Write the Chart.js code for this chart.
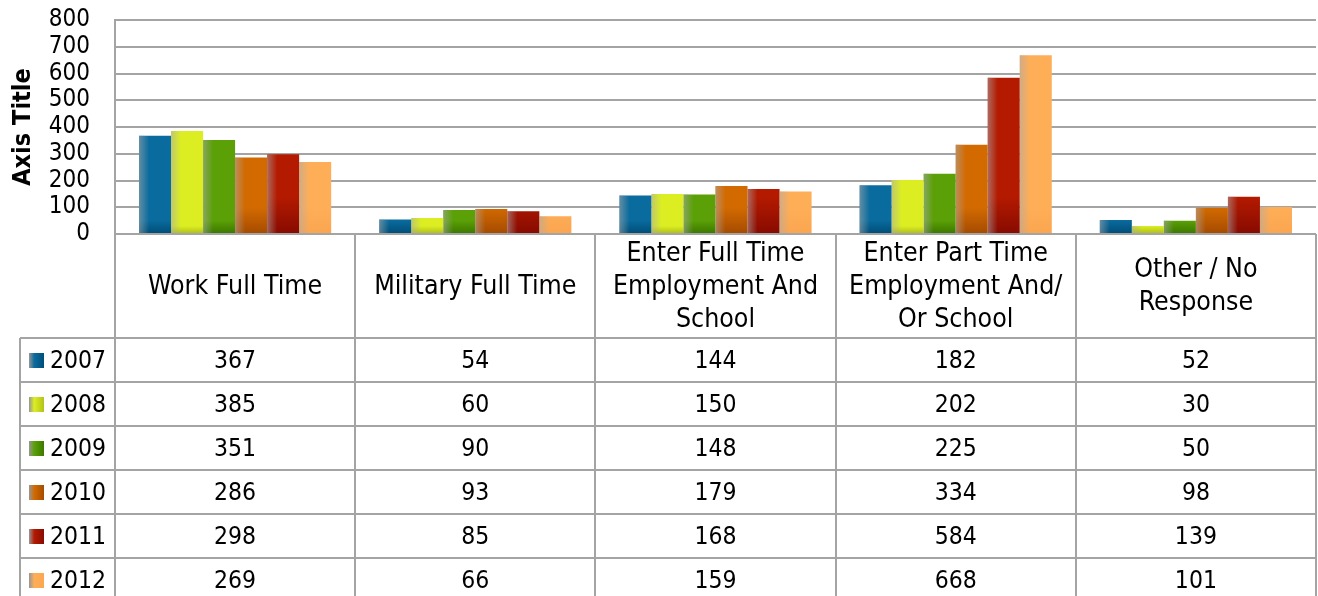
<!DOCTYPE html>
<html>
<head>
<meta charset="utf-8">
<script src="https://cdn.jsdelivr.net/npm/chart.js@4.4.0/dist/chart.umd.min.js"></script>
<style>
  html, body { margin: 0; padding: 0; background: #fff; }
  canvas { display: block; }
</style>
</head>
<body>
<canvas id="myChart" width="1318" height="596"></canvas>
<script>
let categories = [
  ["Work Full Time"],
  ["Military Full Time"],
  ["Enter Full Time", "Employment And", "School"],
  ["Enter Part Time", "Employment And/", "Or School"],
  ["Other / No", "Response"]
];
let years = ["2007", "2008", "2009", "2010", "2011", "2012"];

let values2007 = [367, 54, 144, 182, 52];
let values2008 = [385, 60, 150, 202, 30];
let values2009 = [351, 90, 148, 225, 50];
let values2010 = [286, 93, 179, 334, 98];
let values2011 = [298, 85, 168, 584, 139];
let values2012 = [269, 66, 159, 668, 101];
let allValues = [values2007, values2008, values2009, values2010, values2011, values2012];

let yMax = 800;
let yStep = 100;

// bar colours, top and bottom of the gradient
let topColors = ["#0a6b9e", "#dcee22", "#5ba006", "#d26a00", "#b41a00", "#ffae58"];
let bottomColors = ["#004f7a", "#b2c21a", "#3d7900", "#a64c00", "#880b00", "#fba650"];

const gridColor = "#a4a4a4";
const textFont = "'DejaVu Sans Condensed', 'DejaVu Sans', sans-serif";
const headerHeight = 104;
const rowHeight = 44;
const legendLeft = 20;

function barGradient(ctx, i, top, bottom) {
  let g = ctx.createLinearGradient(0, top, 0, bottom);
  g.addColorStop(0, topColors[i]);
  g.addColorStop(1, bottomColors[i]);
  return g;
}

// per bar gradient plus the light left edge
const barShading = {
  id: "barShading",
  beforeDatasetsDraw(chart) {
    let ctx = chart.ctx;
    chart.data.datasets.forEach((ds, i) => {
      chart.getDatasetMeta(i).data.forEach(bar => {
        let p = bar.getProps(["y", "base"], true);
        bar.options.backgroundColor = barGradient(ctx, i, p.y, p.base);
      });
    });
  },
  afterDatasetsDraw(chart) {
    let ctx = chart.ctx;
    ctx.save();
    chart.data.datasets.forEach((ds, i) => {
      chart.getDatasetMeta(i).data.forEach(bar => {
        let p = bar.getProps(["x", "y", "base", "width"], true);
        let left = p.x - p.width / 2;
        let g = ctx.createLinearGradient(left, 0, left + 10, 0);
        g.addColorStop(0, "rgba(170,170,170,0.55)");
        g.addColorStop(1, "rgba(170,170,170,0)");
        ctx.fillStyle = g;
        ctx.fillRect(left, p.y, 10, p.base - p.y);
      });
    });
    ctx.restore();
  }
};

// data table under the plot
const dataTable = {
  id: "dataTable",
  afterDraw(chart) {
    let ctx = chart.ctx;
    let area = chart.chartArea;
    let xScale = chart.scales.x;
    let colW = xScale.width / categories.length;
    let headerBottom = area.bottom + headerHeight;
    let bottom = headerBottom + rowHeight * years.length;

    ctx.save();
    ctx.strokeStyle = gridColor;
    ctx.lineWidth = 2;

    // column lines
    for (let k = 0; k <= categories.length; k++) {
      let x = Math.round(xScale.left + k * colW);
      ctx.beginPath();
      ctx.moveTo(x, area.bottom);
      ctx.lineTo(x, bottom);
      ctx.stroke();
    }
    ctx.beginPath();
    ctx.moveTo(legendLeft, headerBottom);
    ctx.lineTo(legendLeft, bottom);
    ctx.stroke();

    // row lines
    for (let r = 0; r <= years.length; r++) {
      let y = Math.round(headerBottom + r * rowHeight);
      ctx.beginPath();
      ctx.moveTo(legendLeft, y);
      ctx.lineTo(xScale.right, y);
      ctx.stroke();
    }

    ctx.fillStyle = "#000";
    ctx.textAlign = "center";
    ctx.textBaseline = "middle";

    // category headers
    ctx.font = "26.5px " + textFont;
    categories.forEach((lines, c) => {
      let cx = xScale.getPixelForValue(c);
      let mid = area.bottom + headerHeight / 2;
      let lh = 33;
      lines.forEach((line, l) => {
        let y = mid + (l - (lines.length - 1) / 2) * lh + 1;
        ctx.fillText(line, cx, y);
      });
    });

    // values and legend keys
    ctx.font = "24.5px " + textFont;
    years.forEach((year, r) => {
      let cy = headerBottom + r * rowHeight + rowHeight / 2 + 2;
      ctx.textAlign = "center";
      allValues[r].forEach((v, c) => {
        ctx.fillText(String(v), xScale.getPixelForValue(c), cy);
      });
      let g = ctx.createLinearGradient(29, 0, 44, 0);
      g.addColorStop(0, "rgba(150,150,150,1)");
      g.addColorStop(0.35, topColors[r]);
      g.addColorStop(1, bottomColors[r]);
      ctx.fillStyle = g;
      ctx.fillRect(29, cy - 9, 15, 15);
      ctx.fillStyle = "#000";
      ctx.textAlign = "left";
      ctx.fillText(year, 50, cy);
    });
    ctx.restore();
  }
};

let datasets = years.map((year, i) => ({
  label: year,
  data: allValues[i],
  backgroundColor: topColors[i],
  borderWidth: 0,
  categoryPercentage: 0.8,
  barPercentage: 1.0
}));

let ctx = document.getElementById("myChart").getContext("2d");

let myChart = new Chart(ctx, {
  type: "bar",
  data: {
    labels: categories.map(c => c.join(" ")),
    datasets
  },
  options: {
    responsive: false,
    animation: false,
    devicePixelRatio: 1,
    layout: { padding: { top: 20, right: 2, left: 0, bottom: 0 } },
    plugins: {
      legend: { display: false },
      tooltip: { enabled: false }
    },
    scales: {
      x: {
        ticks: { display: false },
        grid: { display: false },
        border: { display: false },
        afterFit(scale) { scale.height = 362; }
      },
      y: {
        min: 0,
        max: yMax,
        ticks: {
          stepSize: yStep,
          autoSkip: false,
          color: "#000",
          padding: 25,
          font: { family: textFont, size: 24 }
        },
        grid: { color: gridColor, lineWidth: 2, drawTicks: false },
        border: { display: true, color: gridColor, width: 2 },
        title: {
          display: true,
          text: "Axis Title",
          color: "#000",
          padding: { top: 8, bottom: 0 },
          font: { family: textFont, size: 25, weight: "bold" }
        },
        afterFit(scale) {
          // tick padding would otherwise push the plot down
          scale.width = 115;
          scale.paddingTop = 0;
          scale.paddingBottom = 0;
        }
      }
    }
  },
  plugins: [barShading, dataTable]
});
</script>
</body>
</html>
